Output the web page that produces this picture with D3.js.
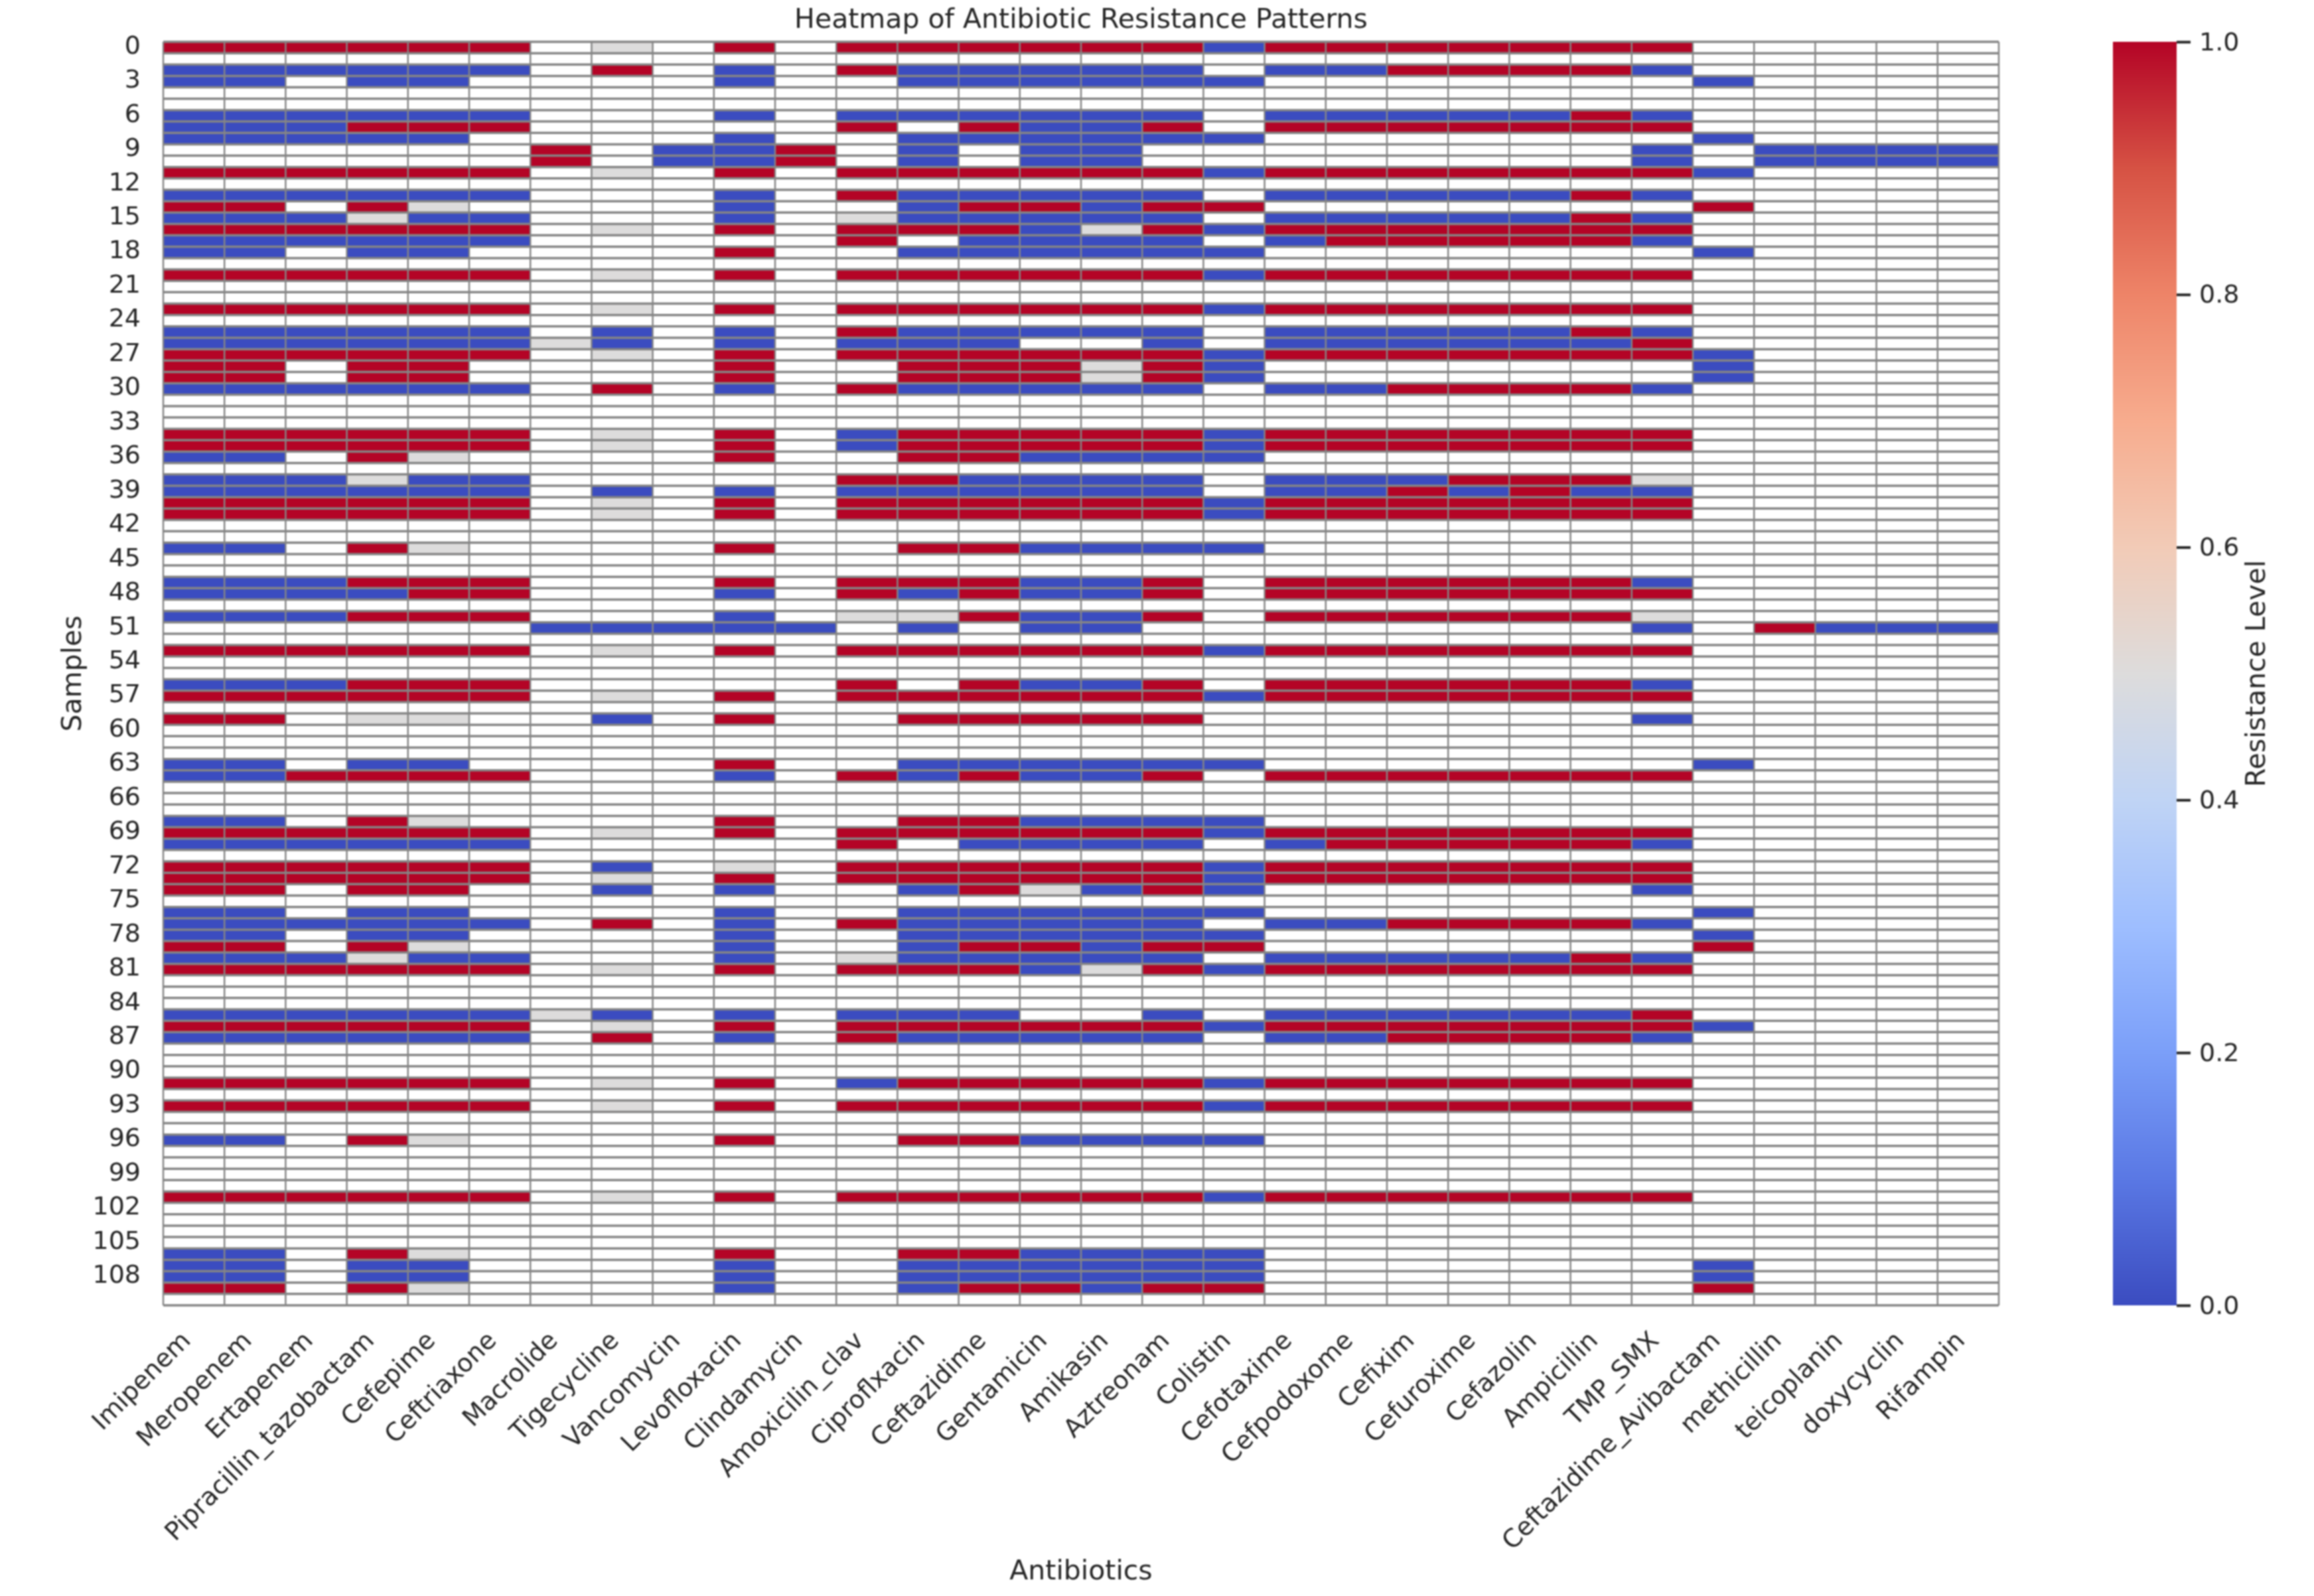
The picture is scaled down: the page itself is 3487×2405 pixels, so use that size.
<!DOCTYPE html>
<html lang="en">
<head>
<meta charset="utf-8">
<title>Heatmap of Antibiotic Resistance Patterns</title>
<style type="text/css">
    html, body { margin: 0; padding: 0; background: #fff; }
    svg { display: block; filter: blur(0.8px); }
    svg text { font-family: "DejaVu Sans", sans-serif; fill: #262626; }
</style>
</head>
<body>
<script src="https://cdn.jsdelivr.net/npm/d3@7"></script>
<script>

    var w = 3487;
    var h = 2405;

    var antibiotics = ["Imipenem", "Meropenem", "Ertapenem", "Pipracillin_tazobactam", "Cefepime", "Ceftriaxone",
        "Macrolide", "Tigecycline", "Vancomycin", "Levofloxacin", "Clindamycin", "Amoxicilin_clav", "Ciproflxacin",
        "Ceftazidime", "Gentamicin", "Amikasin", "Aztreonam", "Colistin", "Cefotaxime", "Cefpodoxome", "Cefixim",
        "Cefuroxime", "Cefazolin", "Ampicillin", "TMP_SMX", "Ceftazidime_Avibactam", "methicillin", "teicoplanin",
        "doxycyclin", "Rifampin"];

    // one string per sample, one character per antibiotic
    // 1 = resistant, 0 = sensitive, 5 = intermediate (0.5), - = no value
    var samples = [
        "111111-5-1-1111110"+"1111111-----",  // 0
        "------------------"+"------------",
        "000000-1-0-100000-"+"0011110-----",
        "00-00----0--000000"+"-------0----",
        "------------------"+"------------",
        "------------------"+"------------",
        "000000---0-000000-"+"0000010-----",  // 6
        "000111-----1-1001-"+"1111111-----",
        "00000----0--000000"+"-------0----",
        "------1-001-0-00--"+"------0-0000",
        "------1-001-0-00--"+"------0-0000",
        "111111-5-1-1111110"+"11111110----",
        "------------------"+"------------",  // 12
        "000000---0-100000-"+"0000010-----",
        "11-15----0--011011"+"-------1----",
        "000500---0-500000-"+"0000010-----",
        "111111-5-1-1110510"+"1111111-----",
        "000000-----1-0000-"+"0111110-----",
        "00-00----1--000000"+"-------0----",  // 18
        "------------------"+"------------",
        "111111-5-1-1111110"+"1111111-----",
        "------------------"+"------------",
        "------------------"+"------------",
        "111111-5-1-1111110"+"1111111-----",
        "------------------"+"------------",  // 24
        "000000-0-0-100000-"+"0000010-----",
        "00000050-0-000--0-"+"0000001-----",
        "111111-5-1-1111110"+"11111110----",
        "11-11----1--111510"+"-------0----",
        "11-11----1--111510"+"-------0----",
        "000000-1-0-100000-"+"0011110-----",  // 30
        "------------------"+"------------",
        "------------------"+"------------",
        "------------------"+"------------",
        "111111-5-1-0111110"+"1111111-----",
        "111111-5-1-0111110"+"1111111-----",
        "00-15----1--110000"+"------------",  // 36
        "------------------"+"------------",
        "000500-----110000-"+"0001115-----",
        "000000-0-0-000000-"+"0010100-----",
        "111111-5-1-1111110"+"1111111-----",
        "111111-5-1-1111110"+"1111111-----",
        "------------------"+"------------",  // 42
        "------------------"+"------------",
        "00-15----1--110000"+"------------",
        "------------------"+"------------",
        "------------------"+"------------",
        "000111---1-111001-"+"1111110-----",
        "000011---0-101001-"+"1111111-----",  // 48
        "------------------"+"------------",
        "000111---0-551001-"+"1111115-----",
        "------00000-0-00--"+"------0-1000",
        "------------------"+"------------",
        "111111-5-1-1111110"+"1111111-----",
        "------------------"+"------------",  // 54
        "------------------"+"------------",
        "000111-----1-1001-"+"1111110-----",
        "111111-5-1-1111110"+"1111111-----",
        "------------------"+"------------",
        "11-55--0-1--11111-"+"------0-----",
        "------------------"+"------------",  // 60
        "------------------"+"------------",
        "------------------"+"------------",
        "00-00----1--000000"+"-------0----",
        "001111---0-101001-"+"1111111-----",
        "------------------"+"------------",
        "------------------"+"------------",  // 66
        "------------------"+"------------",
        "00-15----1--110000"+"------------",
        "111111-5-1-1111110"+"1111111-----",
        "000000-----1-0000-"+"0111110-----",
        "------------------"+"------------",
        "111111-0-5-1111110"+"1111111-----",  // 72
        "111111-5-1-1111110"+"1111111-----",
        "11-11--0-0--015010"+"------0-----",
        "------------------"+"------------",
        "00-00----0--000000"+"-------0----",
        "000000-1-0-100000-"+"0011110-----",
        "00-00----0--000000"+"-------0----",  // 78
        "11-15----0--011011"+"-------1----",
        "000500---0-500000-"+"0000010-----",
        "111111-5-1-1110510"+"1111111-----",
        "------------------"+"------------",
        "------------------"+"------------",
        "------------------"+"------------",  // 84
        "00000050-0-000--0-"+"0000001-----",
        "111111-5-1-1111110"+"11111110----",
        "000000-1-0-100000-"+"0011110-----",
        "------------------"+"------------",
        "------------------"+"------------",
        "------------------"+"------------",  // 90
        "111111-5-1-0111110"+"1111111-----",
        "------------------"+"------------",
        "111111-5-1-1111110"+"1111111-----",
        "------------------"+"------------",
        "------------------"+"------------",
        "00-15----1--110000"+"------------",  // 96
        "------------------"+"------------",
        "------------------"+"------------",
        "------------------"+"------------",
        "------------------"+"------------",
        "111111-5-1-1111110"+"1111111-----",
        "------------------"+"------------",  // 102
        "------------------"+"------------",
        "------------------"+"------------",
        "------------------"+"------------",
        "00-15----1--110000"+"------------",
        "00-00----0--000000"+"-------0----",
        "00-00----0--000000"+"-------0----",  // 108
        "11-15----0--011011"+"-------1----",
        "------------------"+"------------"
    ];

    var sampleTicks = d3.range(0, 109, 3);
    var colorbarTicks = [0, 0.2, 0.4, 0.6, 0.8, 1];

    // coolwarm, read at steps of 0.1
    var coolwarmDomain = [0, 0.1, 0.2, 0.3, 0.4, 0.5, 0.6, 0.7, 0.8, 0.9, 1];
    var coolwarmColors = ["#3b4cc0", "#5a78e4", "#7b9ff9", "#9ebeff", "#c0d4f5", "#dddcdc",
        "#f2cbb7", "#f7ac8e", "#ee8468", "#d65244", "#b40426"];

    var plot = {left: 246, right: 3012, top: 63, bottom: 1967};
    var bar = {left: 3184, right: 3280};
    var labelSize = 38;
    var titleSize = 41;

    var color = d3.scaleLinear().domain(coolwarmDomain).range(coolwarmColors);

    var xScale = d3.scaleBand().domain(antibiotics).range([plot.left, plot.right]);
    var yScale = d3.scaleBand().domain(d3.range(samples.length)).range([plot.top, plot.bottom]);
    var barScale = d3.scaleLinear().domain([0, 1]).range([plot.bottom, plot.top]);

    var svg = d3.select("body")
        .append("svg")
        .attr("width", w)
        .attr("height", h);

    // turn the strings into cells, skipping the empty ones
    var cells = [];
    samples.forEach(function(row, i) {
        antibiotics.forEach(function(name, j) {
            var c = row.charAt(j);
            if (c != "-") {
                cells.push({sample: i, antibiotic: name, value: c == "5" ? 0.5 : +c});
            }
        });
    });

    var heat = svg.append("g").attr("class", "heat");

    heat.selectAll("rect")
        .data(cells)
        .enter()
        .append("rect")
        .attr("x", function(d) { return xScale(d.antibiotic); })
        .attr("y", function(d) { return yScale(d.sample); })
        .attr("width", xScale.bandwidth())
        .attr("height", yScale.bandwidth())
        .attr("fill", function(d) { return color(d.value); });

    // gray cell borders
    heat.selectAll("line.h")
        .data(d3.range(samples.length + 1))
        .enter()
        .append("line")
        .attr("class", "h")
        .attr("x1", plot.left)
        .attr("x2", plot.right)
        .attr("y1", function(d) { return plot.top + d * yScale.step(); })
        .attr("y2", function(d) { return plot.top + d * yScale.step(); })
        .attr("stroke", "#858585")
        .attr("stroke-width", 3.5);

    heat.selectAll("line.v")
        .data(d3.range(antibiotics.length + 1))
        .enter()
        .append("line")
        .attr("class", "v")
        .attr("x1", function(d) { return plot.left + d * xScale.step(); })
        .attr("x2", function(d) { return plot.left + d * xScale.step(); })
        .attr("y1", plot.top)
        .attr("y2", plot.bottom)
        .attr("stroke", "#858585")
        .attr("stroke-width", 2.5);

    // axes
    var xAxis = svg.append("g")
        .attr("transform", "translate(0," + plot.bottom + ")")
        .call(d3.axisBottom(xScale).tickSize(0));
    xAxis.select(".domain").remove();
    xAxis.selectAll("text")
        .attr("font-size", labelSize)
        .attr("text-anchor", "end")
        .attr("dy", 0)
        .attr("x", 0)
        .attr("y", 0)
        .attr("transform", "translate(-3,55) rotate(-45)");

    var yAxis = svg.append("g")
        .attr("transform", "translate(" + plot.left + ",0)")
        .call(d3.axisLeft(yScale).tickValues(sampleTicks).tickSize(0).tickPadding(34));
    yAxis.select(".domain").remove();
    yAxis.selectAll("text").attr("font-size", labelSize).attr("dy", "0.24em");

    // colour bar
    var gradient = svg.append("defs").append("linearGradient")
        .attr("id", "coolwarm")
        .attr("x1", 0).attr("y1", 1)
        .attr("x2", 0).attr("y2", 0);
    gradient.selectAll("stop")
        .data(coolwarmDomain)
        .enter()
        .append("stop")
        .attr("offset", function(d) { return d; })
        .attr("stop-color", function(d) { return color(d); });

    svg.append("rect")
        .attr("x", bar.left)
        .attr("y", plot.top)
        .attr("width", bar.right - bar.left)
        .attr("height", plot.bottom - plot.top)
        .attr("fill", "url(#coolwarm)");

    var barAxis = svg.append("g")
        .attr("transform", "translate(" + bar.right + ",0)")
        .call(d3.axisRight(barScale).tickValues(colorbarTicks).tickFormat(d3.format(".1f")).tickSize(21).tickPadding(13));
    barAxis.select(".domain").remove();
    barAxis.selectAll("line").attr("stroke", "#262626").attr("stroke-width", 4);
    barAxis.selectAll("text").attr("font-size", labelSize);

    // titles
    svg.append("text")
        .attr("x", (plot.left + plot.right) / 2)
        .attr("y", 42)
        .attr("text-anchor", "middle")
        .attr("font-size", titleSize)
        .text("Heatmap of Antibiotic Resistance Patterns");

    svg.append("text")
        .attr("x", (plot.left + plot.right) / 2)
        .attr("y", 2380)
        .attr("text-anchor", "middle")
        .attr("font-size", titleSize)
        .text("Antibiotics");

    svg.append("text")
        .attr("transform", "translate(122," + (plot.top + plot.bottom) / 2 + ") rotate(-90)")
        .attr("text-anchor", "middle")
        .attr("font-size", titleSize)
        .text("Samples");

    svg.append("text")
        .attr("transform", "translate(3413," + (plot.top + plot.bottom) / 2 + ") rotate(-90)")
        .attr("text-anchor", "middle")
        .attr("font-size", titleSize)
        .text("Resistance Level");

</script>
</body>
</html>
